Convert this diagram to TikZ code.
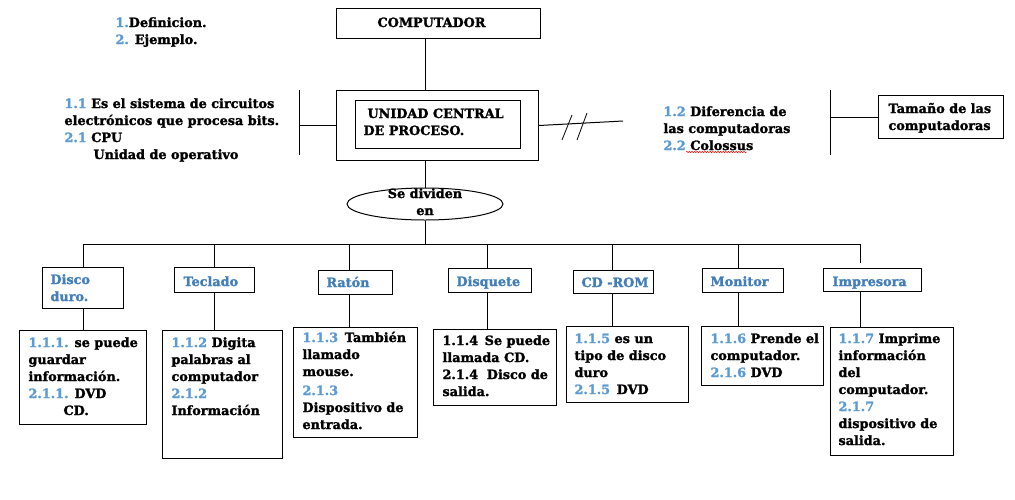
\documentclass[tikz,border=0pt]{standalone}
\usepackage{fontspec}
\setmainfont{DejaVu Serif}[BoldFeatures={FakeBold=1.6}]
\usetikzlibrary{shapes.geometric,decorations.pathmorphing}
\definecolor{numblue}{RGB}{91,155,213}
\definecolor{hdblue}{RGB}{66,126,186}
\newcommand\bnum[1]{\textcolor{numblue}{#1}}
\newcommand\lines[2][l]{\begin{tabular}[t]{@{}#1@{}}#2\end{tabular}}
\begin{document}
\begin{tikzpicture}[x=1pt, y=-1pt, line width=1pt,
  bx/.style={draw, inner sep=0pt, anchor=north west},
  txt/.style={inner sep=0pt, anchor=base west, font=\fontsize{12.8}{17}\selectfont\bfseries},
  hd/.style={txt, text=hdblue}]
\fill[white] (0,0) rectangle (1015,499);
\useasboundingbox (0,0) rectangle (1015,499);
\node[txt] (def) at (115,27){\lines{\bnum{1.}Definicion.\\\bnum{2.} Ejemplo.}};
\node[bx, minimum width=204pt, minimum height=30pt] (comp) at (336,8){};
\node[txt] (compt) at (377,27){COMPUTADOR};
\node[bx, minimum width=202pt, minimum height=70pt] (cpu) at (336,90){};
\node[bx, minimum width=165pt, minimum height=48pt] (cpuin) at (355,100){};
\node[txt] (cput) at (363,118){\lines{\hspace{4pt}UNIDAD CENTRAL\\DE PROCESO.}};
\node[draw, ellipse, minimum width=156pt, minimum height=32pt, inner sep=0pt] (ell) at (425,204){};
\node[txt, anchor=base] (ellt) at (425,198){\lines[c]{Se dividen\\en}};
\draw[](ell |- comp.south) -- (ell |- cpu.north);
\draw[](cpu.south -| ell) -- (ell.north);
% left side
\node[txt] (lt) at (64,108){\lines{\bnum{1.1} Es el sistema de circuitos\\electrónicos que procesa bits.\\\bnum{2.1} CPU\\\hspace{29pt}Unidad de operativo}};
\coordinate (lv1) at (299,90);
\coordinate (lv2) at (299,155);
\draw[](lv1) -- (lv2);
\draw[](cpu.west) -- (cpu.west -| lv1);
% right side
\coordinate (rl) at (623,121);
\draw[](cpu.east) -- (rl);
\draw[line width=.8pt](562,140) -- (572,115);
\draw[line width=.8pt](577,140) -- (587,113);
\node[txt] (rt) at (663,116){\lines{\bnum{1.2} Diferencia de\\las computadoras\\\bnum{2.2} Colossus}};
\draw[red, line width=.5pt, decorate, decoration={snake, amplitude=.7pt, segment length=2.6pt}](686,152) -- (747,152);
\coordinate (rv1) at (830,90);
\coordinate (rv2) at (830,155);
\draw[](rv1) -- (rv2);
\node[bx, minimum width=125pt, minimum height=43pt] (tam) at (878,95){};
\node[txt] (tamt) at (888,113){\lines{Tamaño de las\\computadoras}};
\draw[](tam.west) -- (tam.west -| rv1);
% bus
\coordinate (b0) at (425,244);
\coordinate (b1) at (83,244);
\coordinate (b2) at (214,244);
\coordinate (b3) at (349,244);
\coordinate (b4) at (487,244);
\coordinate (b5) at (612,244);
\coordinate (b6) at (738,244);
\coordinate (b7) at (860,244);
\coordinate (b7e) at (860,263);
\draw[](ell.south) -- (b0);
\draw[](b1) -- (b7);
% headers
\node[bx, minimum width=81pt, minimum height=41pt] (hd1) at (42,267){};
\node[hd] (hd1t) at (50,284){\lines{Disco\\duro.}};
\node[bx, minimum width=80pt, minimum height=25pt] (hd2) at (174,267){};
\node[hd] (hd2t) at (183,286){Teclado};
\node[bx, minimum width=74pt, minimum height=24pt] (hd3) at (318,270){};
\node[hd] (hd3t) at (326,287){Ratón};
\node[bx, minimum width=83pt, minimum height=24pt] (hd4) at (448,268){};
\node[hd] (hd4t) at (456,286){Disquete};
\node[bx, minimum width=80pt, minimum height=23pt] (hd5) at (573,270){};
\node[hd] (hd5t) at (581,287){CD -ROM};
\node[bx, minimum width=81pt, minimum height=24pt] (hd6) at (702,268){};
\node[hd] (hd6t) at (710,286){Monitor};
\node[bx, minimum width=98pt, minimum height=23pt] (hd7) at (823,268){};
\node[hd] (hd7t) at (832,286){Impresora};
\draw[](b1) -- (b1 |- hd1.north);
\draw[](b2) -- (b2 |- hd2.north);
\draw[](b3) -- (b3 |- hd3.north);
\draw[](b4) -- (b4 |- hd4.north);
\draw[](b5) -- (b5 |- hd5.north);
\draw[](b6) -- (b6 |- hd6.north);
\draw[](b7) -- (b7e);
% details
\node[bx, minimum width=127pt, minimum height=94pt] (det1) at (19,330){};
\node[txt] (det1t) at (28,347){\lines{\bnum{1.1.1.} se puede\\guardar\\información.\\\bnum{2.1.1.} DVD\\\hspace{35pt}CD.}};
\node[bx, minimum width=120pt, minimum height=128pt] (det2) at (162,330){};
\node[txt] (det2t) at (171,347){\lines{\bnum{1.1.2} Digita\\palabras al\\computador\\\bnum{2.1.2}\\Información}};
\node[bx, minimum width=124pt, minimum height=110pt] (det3) at (293,327){};
\node[txt] (det3t) at (302,342){\lines{\bnum{1.1.3}\, También\\llamado\\mouse.\\[2pt]\bnum{2.1.3}\\Dispositivo de\\entrada.}};
\node[bx, minimum width=123pt, minimum height=76pt] (det4) at (433,329){};
\node[txt] (det4t) at (442,345){\lines{1.1.4\, Se puede\\llamada CD.\\2.1.4\,\, Disco de\\salida.}};
\node[bx, minimum width=122pt, minimum height=76pt] (det5) at (566,326){};
\node[txt] (det5t) at (574,343){\lines{\bnum{1.1.5} es un\\tipo de disco\\duro\\\bnum{2.1.5}\, DVD}};
\node[bx, minimum width=122pt, minimum height=59pt] (det6) at (701,326){};
\node[txt] (det6t) at (710,343){\lines{\bnum{1.1.6} Prende el\\computador.\\\bnum{2.1.6} DVD}};
\node[bx, minimum width=123pt, minimum height=128pt] (det7) at (830,327){};
\node[txt] (det7t) at (838,343){\lines{\bnum{1.1.7} Imprime\\información\\del\\computador.\\\bnum{2.1.7}\\dispositivo de\\salida.}};
\draw[](b1 |- hd1.south) -- (b1 |- det1.north);
\draw[](b2 |- hd2.south) -- (b2 |- det2.north);
\draw[](b3 |- hd3.south) -- (b3 |- det3.north);
\draw[](b4 |- hd4.south) -- (b4 |- det4.north);
\draw[](b5 |- hd5.south) -- (b5 |- det5.north);
\draw[](b6 |- hd6.south) -- (b6 |- det6.north);
\draw[](b7 |- hd7.south) -- (b7 |- det7.north);
\end{tikzpicture}
\end{document}
